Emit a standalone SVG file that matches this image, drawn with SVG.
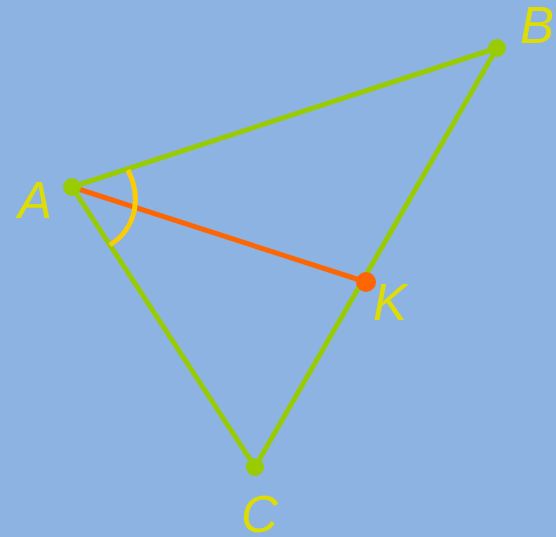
<svg xmlns="http://www.w3.org/2000/svg" width="556" height="537" viewBox="0 0 556 537">
<style>
.edge{stroke:#99CC00;stroke-width:5;fill:none;stroke-linecap:round}
.lbl{font-family:"Liberation Sans",Arial,sans-serif;font-style:italic;font-size:51px;fill:#DDDD00}
</style>
<rect width="556" height="537" fill="#8DB3E2"/>
<g id="connectors">
<line class="edge" x1="72" y1="187" x2="497" y2="48"/>
<line class="edge" x1="497" y1="48" x2="255" y2="467"/>
<line class="edge" x1="72" y1="187" x2="255" y2="467"/>
<line x1="72" y1="187" x2="366" y2="282" stroke="#FF6600" stroke-width="5"/>
<path d="M128,170 C141,195 138,227 110,245" fill="none" stroke="#FFCC00" stroke-width="5"/>
</g>
<g id="A"><circle cx="72" cy="187" r="9" fill="#99CC00"/><text class="lbl" x="18" y="218">A</text></g>
<g id="B"><circle cx="497" cy="48" r="9" fill="#99CC00"/><text class="lbl" x="520" y="43">B</text></g>
<g id="C"><circle cx="255" cy="467" r="9" fill="#99CC00"/><text class="lbl" x="241" y="532">C</text></g>
<g id="K"><circle cx="366" cy="282" r="10" fill="#FF6600"/><text class="lbl" x="373" y="320">K</text></g>
</svg>
